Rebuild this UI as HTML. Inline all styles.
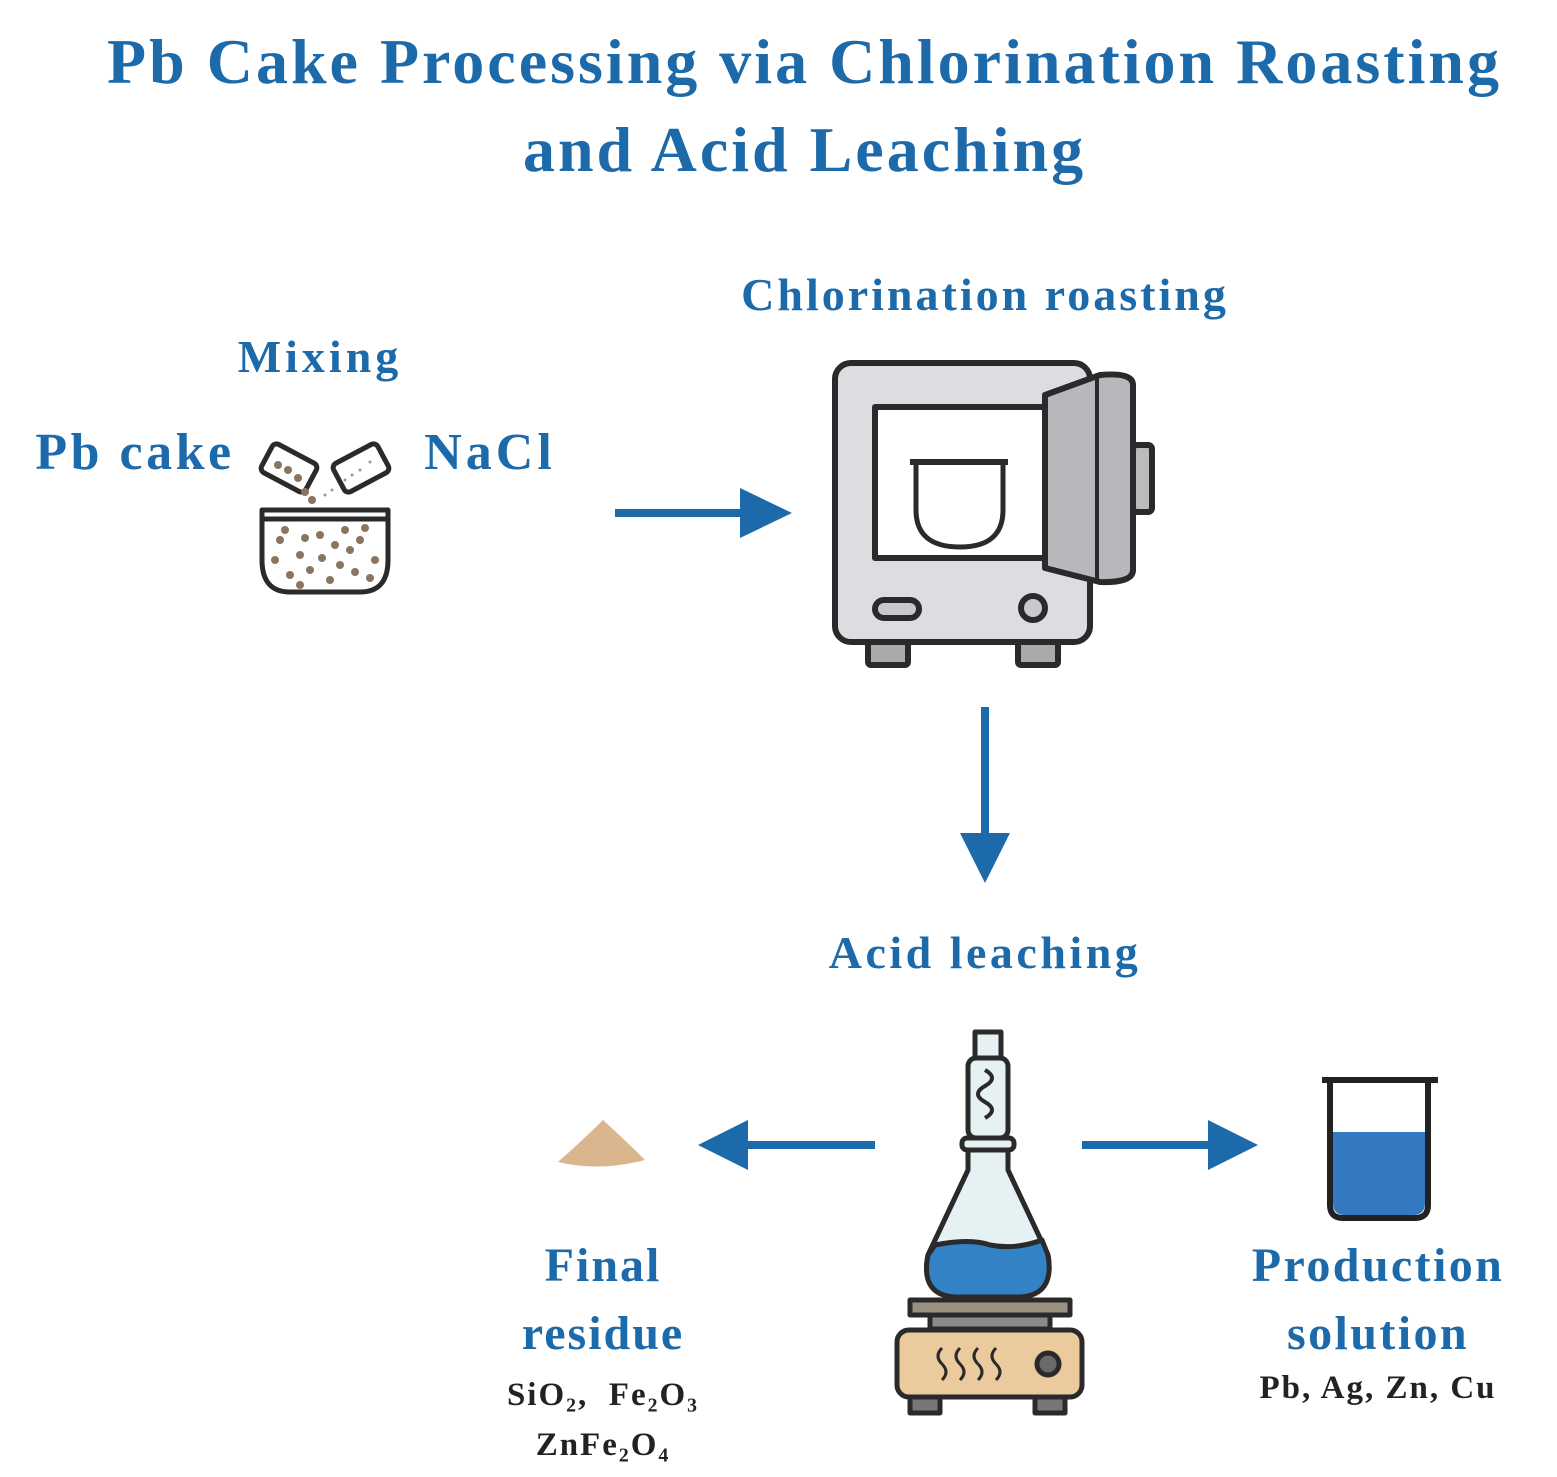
<!DOCTYPE html>
<html><head><meta charset="utf-8"><style>
body{margin:0;width:1557px;height:1477px;background:#fff;overflow:hidden;position:relative;font-family:"Liberation Serif",serif;}
.t{position:absolute;color:#1d6aab;font-weight:bold;text-align:center;white-space:nowrap;}
.k{position:absolute;color:#222;font-weight:bold;text-align:center;white-space:nowrap;font-size:33px;letter-spacing:2px;}
</style></head><body>
<div class="t" style="left:26px;width:1557px;top:18px;font-size:64px;line-height:88px;letter-spacing:3px">Pb Cake Processing via Chlorination Roasting<br>and Acid Leaching</div>
<div class="t" style="left:700px;width:570px;top:268px;font-size:46px;letter-spacing:3px">Chlorination roasting</div>
<div class="t" style="left:170px;width:300px;top:330px;font-size:46px;letter-spacing:4px">Mixing</div>
<div class="t" style="left:10px;width:250px;top:423px;font-size:52px;letter-spacing:3.5px">Pb cake</div>
<div class="t" style="left:400px;width:180px;top:423px;font-size:52px;letter-spacing:4px">NaCl</div>
<div class="t" style="left:760px;width:450px;top:926px;font-size:46px;letter-spacing:3.5px">Acid leaching</div>
<div class="t" style="left:450px;width:306px;top:1232px;font-size:48px;line-height:68px;letter-spacing:2px">Final<br>residue</div>
<div class="t" style="left:1200px;width:356px;top:1232px;font-size:48px;line-height:68px;letter-spacing:2.4px">Production<br>solution</div>
<div class="k" style="left:450px;width:306px;top:1370px;line-height:50px">SiO₂,&nbsp; Fe₂O₃<br>ZnFe₂O₄</div>
<div class="k" style="left:1200px;width:356px;top:1370px">Pb, Ag, Zn, Cu</div>
<svg width="1557" height="1477" style="position:absolute;left:0;top:0">
<g fill="#1d6aab" stroke="none">
<rect x="615" y="509" width="130" height="8"/><polygon points="740,488 792,513 740,538"/>
<rect x="981" y="707" width="8" height="130"/><polygon points="960,833 985,883 1010,833"/>
<rect x="745" y="1141" width="130" height="8"/><polygon points="748,1120 698,1145 748,1170"/>
<rect x="1082" y="1141" width="130" height="8"/><polygon points="1208,1120 1258,1145 1208,1170"/>
</g>
<g stroke="#2a2a2a" stroke-width="5" fill="#fff" stroke-linejoin="round">
<rect x="264" y="452" width="50" height="32" rx="5" transform="rotate(28 289 468)"/>
<rect x="336" y="452" width="50" height="32" rx="5" transform="rotate(-28 361 468)"/>
<path d="M262 510 H388 V560 Q388 592 360 592 H290 Q262 592 262 560 Z"/>
<line x1="262" y1="519" x2="388" y2="519"/>
</g>
<g fill="#8a7560">
<circle cx="280" cy="540" r="4"/><circle cx="300" cy="555" r="4"/><circle cx="320" cy="535" r="4"/><circle cx="340" cy="565" r="4"/><circle cx="360" cy="540" r="4"/><circle cx="375" cy="560" r="4"/><circle cx="290" cy="575" r="4"/><circle cx="330" cy="580" r="4"/><circle cx="350" cy="550" r="4"/><circle cx="310" cy="570" r="4"/><circle cx="370" cy="578" r="4"/><circle cx="275" cy="560" r="4"/>
<circle cx="285" cy="530" r="4"/><circle cx="305" cy="538" r="4"/><circle cx="335" cy="545" r="4"/><circle cx="365" cy="528" r="4"/><circle cx="322" cy="558" r="4"/><circle cx="355" cy="572" r="4"/><circle cx="300" cy="585" r="4"/><circle cx="345" cy="530" r="4"/>
<circle cx="278" cy="465" r="4"/><circle cx="288" cy="470" r="4"/><circle cx="298" cy="478" r="4"/><circle cx="305" cy="492" r="4"/><circle cx="312" cy="500" r="4"/>
</g>
<g fill="#999"><circle cx="325" cy="495" r="1.5"/><circle cx="332" cy="490" r="1.5"/><circle cx="345" cy="480" r="1.5"/><circle cx="360" cy="470" r="1.5"/><circle cx="370" cy="462" r="1.5"/><circle cx="352" cy="475" r="1.5"/></g>
<g stroke="#2a2a2a" stroke-width="6" stroke-linejoin="round">
<rect x="868" y="640" width="40" height="25" fill="#aaa" rx="3"/>
<rect x="1018" y="640" width="40" height="25" fill="#aaa" rx="3"/>
<rect x="835" y="363" width="255" height="279" rx="16" fill="#dcdde0"/>
<rect x="875" y="407" width="170" height="151" fill="#fff"/>
<path d="M916 462 H1003 V510 Q1003 547 960 547 Q916 547 916 510 Z" fill="#fff" stroke-width="5"/>
<line x1="910" y1="462" x2="1008" y2="462"/>
<rect x="1133" y="445" width="19" height="67" rx="4" fill="#bbb"/>
<path d="M1045 395 L1100 375 Q1133 372 1133 385 V570 Q1133 583 1100 582 L1045 568 Z" fill="#b6b8bc"/>
<line x1="1097" y1="378" x2="1097" y2="580" stroke-width="4"/>
<rect x="875" y="600" width="44" height="18" rx="9" fill="#c8c9cc"/>
<circle cx="1033" cy="608" r="12" fill="#c8c9cc"/>
</g>
<path d="M558 1162 Q585 1138 603 1120 Q625 1140 645 1160 Q600 1172 558 1162 Z" fill="#d9b68e"/>
<path d="M1340 1132 H1425 V1203 Q1425 1215 1413 1215 H1345 Q1333 1215 1333 1203 V1132 Z" fill="#3279c0"/>
<path d="M1322 1080 H1438 M1330 1080 V1205 Q1330 1218 1343 1218 H1415 Q1428 1218 1428 1205 V1080" fill="none" stroke="#222" stroke-width="6"/>
<g stroke="#2a2a2a" stroke-width="5" stroke-linejoin="round">
<rect x="975" y="1032" width="26" height="30" fill="#e6f1f4"/>
<rect x="968" y="1058" width="40" height="80" rx="8" fill="#e6f1f4"/>
<path d="M985 1070 q14 8 0 16 q-14 8 0 16 q14 8 0 16" fill="none" stroke-width="4"/>
<rect x="962" y="1138" width="52" height="12" rx="5" fill="#e6f1f4"/>
<path d="M968 1150 H1008 V1170 L1048 1255 Q1055 1295 1020 1297 H955 Q920 1295 928 1255 L968 1170 Z" fill="#e6f1f4"/>
<path d="M935 1245 Q970 1238 990 1245 Q1015 1250 1042 1240 L1048 1255 Q1055 1295 1020 1297 H955 Q920 1295 928 1255 Z" fill="#3382c5"/>
<rect x="910" y="1300" width="160" height="15" fill="#999080"/>
<rect x="930" y="1315" width="120" height="14" fill="#8a8a8a"/>
<rect x="910" y="1395" width="30" height="18" fill="#777"/>
<rect x="1035" y="1395" width="30" height="18" fill="#777"/>
<rect x="897" y="1330" width="185" height="67" rx="12" fill="#ebcb9e"/>
<path d="M942 1348 q-8 8 0 16 q8 8 0 16 M960 1348 q-8 8 0 16 q8 8 0 16 M978 1348 q-8 8 0 16 q8 8 0 16 M996 1348 q-8 8 0 16 q8 8 0 16" fill="none" stroke-width="3"/>
<circle cx="1048" cy="1364" r="11" fill="#6a6a6a"/>
</g>
</svg>
</body></html>
